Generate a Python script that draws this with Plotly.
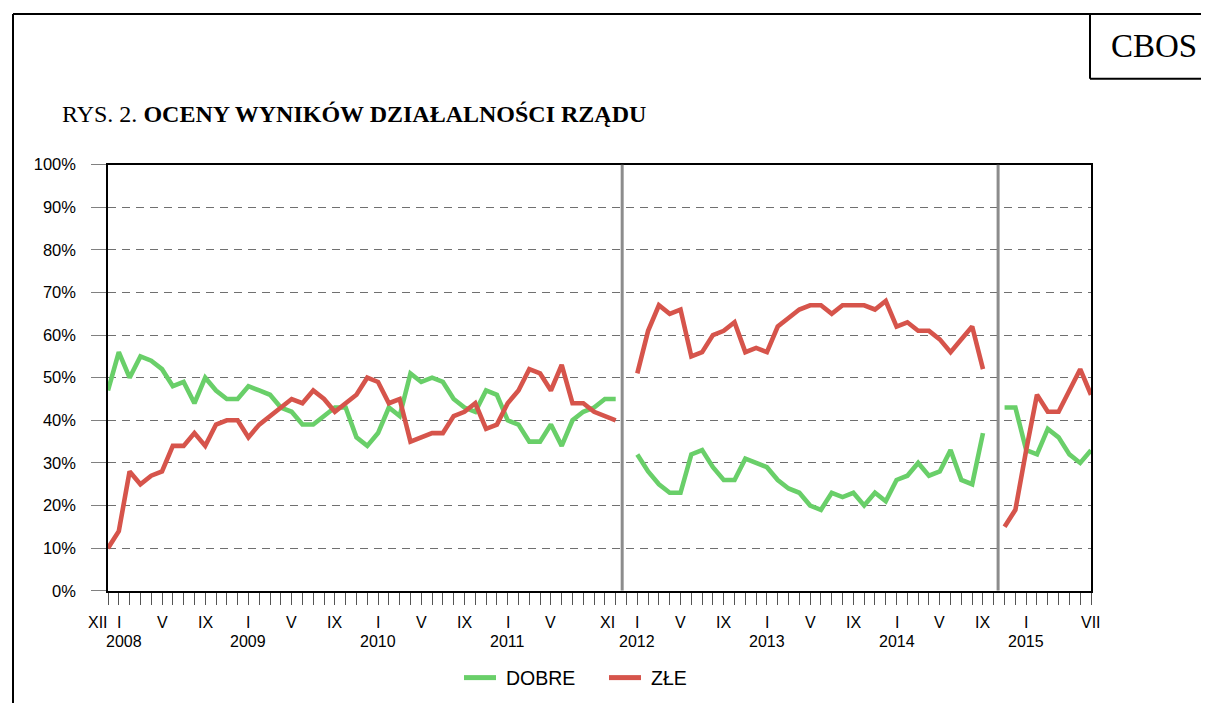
import plotly.graph_objects as go

# ---- data (month index 0 = XII 2007 ... 91 = VII 2015) ----
# Segment 1: XII 2007 - XI 2011 (index 0..47)
dobre_1 = [47, 56, 50, 55, 54, 52, 48, 49, 44, 50, 47, 45, 45, 48, 47, 46, 43, 42, 39, 39,
           41, 43, 43, 36, 34, 37, 43, 41, 51, 49, 50, 49, 45, 43, 42, 47, 46, 40, 39, 35,
           35, 39, 34, 40, 42, 43, 45, 45]
zle_1 = [10, 14, 28, 25, 27, 28, 34, 34, 37, 34, 39, 40, 40, 36, 39, 41, 43, 45, 44, 47,
         45, 42, 44, 46, 50, 49, 44, 45, 35, 36, 37, 37, 41, 42, 44, 38, 39, 44, 47, 52,
         51, 47, 53, 44, 44, 42, 41, 40]
# Segment 2: I 2012 - IX 2014 (index 49..81)
dobre_2 = [32, 28, 25, 23, 23, 32, 33, 29, 26, 26, 31, 30, 29, 26, 24, 23, 20, 19, 23, 22,
           23, 20, 23, 21, 26, 27, 30, 27, 28, 33, 26, 25, 37]
zle_2 = [51, 61, 67, 65, 66, 55, 56, 60, 61, 63, 56, 57, 56, 62, 64, 66, 67, 67, 65, 67,
         67, 67, 66, 68, 62, 63, 61, 61, 59, 56, 59, 62, 52]
# Segment 3: XI 2014 - VII 2015 (index 83..91)
dobre_3 = [43, 43, 33, 32, 38, 36, 32, 30, 33]
zle_3 = [15, 19, 33, 46, 42, 42, 47, 52, 46]

seg_starts = [0, 49, 83]
separators = [47.6, 82.4]

month_label_pos = [0, 1, 5, 9, 13, 17, 21, 25, 29, 33, 37, 41, 47, 49, 53, 57, 61, 65, 69, 73, 77, 81, 85, 91]
month_labels = ["XII", "I", "V", "IX", "I", "V", "IX", "I", "V", "IX", "I", "V", "XI",
                "I", "V", "IX", "I", "V", "IX", "I", "V", "IX", "I", "VII"]
year_label_pos = [1.5, 13, 25, 37, 49, 61, 73, 85]
year_labels = ["2008", "2009", "2010", "2011", "2012", "2013", "2014", "2015"]
y_ticks = list(range(0, 101, 10))
y_ticklabels = [f"{v}%" for v in y_ticks]

series_names = ["DOBRE", "ZŁE"]
colors = ["#69CF69", "#D6544B"]

N = 92

def build(segs):
    ys = [None] * N
    for start, vals in zip(seg_starts, segs):
        for i, v in enumerate(vals):
            ys[start + i] = v
    return ys

dobre = build([dobre_1, dobre_2, dobre_3])
zle = build([zle_1, zle_2, zle_3])
x = list(range(N))

# page is 1209x711; the figure sits inside the default 8px page margin
OFF = 8
W, H = 1209 - 2 * OFF, 711 - 2 * OFF
YA, YS = 16.1, 0.976   # measured vertical placement of the page in the snapshot
def px(v):
    return (v - OFF) / W
def py(v):
    return 1 - ((v - YA) / YS) / H

fig = go.Figure()
for name, ys, col in zip(series_names, [dobre, zle], colors):
    fig.add_trace(go.Scatter(x=x, y=ys, mode="lines", name=name, connectgaps=False,
                             line=dict(color=col, width=4.6), showlegend=False,
                             hoverinfo="x+y"))

font_sans = "Liberation Sans, Arial, sans-serif"
font_serif = "Liberation Serif, Times New Roman, serif"

fig.update_layout(
    width=W, height=H,
    margin=dict(l=0, r=0, t=0, b=0),
    paper_bgcolor="white", plot_bgcolor="white",
    showlegend=False,
    xaxis=dict(domain=[px(108), px(1091)], range=[0, 91], tickmode="array",
               tickvals=x, showticklabels=False, ticks="outside", ticklen=12,
               tickcolor="#555555", tickwidth=1, showgrid=False, zeroline=False,
               showline=True, linecolor="black", linewidth=1.5, mirror=True),
    yaxis=dict(domain=[py(591), py(164)], range=[0, 100], tickmode="array",
               tickvals=y_ticks, ticktext=y_ticklabels, ticks="outside", ticklen=15,
               tickcolor="#808080", tickwidth=1, ticklabelstandoff=12,
               tickfont=dict(family=font_sans, size=16.5, color="black"),
               showgrid=True, gridcolor="#707070", gridwidth=1.2, griddash="8px,6px",
               zeroline=False, showline=True, linecolor="black", linewidth=1.5, mirror=True),
)

shapes = []
for sx in separators:
    shapes.append(dict(type="line", xref="x", yref="y", x0=sx, x1=sx, y0=0, y1=100,
                       line=dict(color="#8C8C8C", width=3)))
# outer frame
shapes.append(dict(type="line", xref="paper", yref="paper", x0=px(13), x1=px(1215),
                   y0=py(13), y1=py(13), line=dict(color="black", width=2)))
shapes.append(dict(type="line", xref="paper", yref="paper", x0=px(13), x1=px(13),
                   y0=py(13), y1=py(730), line=dict(color="black", width=2)))
# CBOS box
shapes.append(dict(type="line", xref="paper", yref="paper", x0=px(1090), x1=px(1090),
                   y0=py(13), y1=py(78), line=dict(color="black", width=2)))
shapes.append(dict(type="line", xref="paper", yref="paper", x0=px(1090), x1=px(1215),
                   y0=py(78), y1=py(78), line=dict(color="black", width=2)))
# legend lines
leg_x = [464, 609]
for lx, col in zip(leg_x, colors):
    shapes.append(dict(type="line", xref="paper", yref="paper", x0=px(lx), x1=px(lx + 32),
                       y0=py(678), y1=py(678), line=dict(color=col, width=5)))
fig.update_layout(shapes=shapes)

ann = []
lab_font = dict(family=font_sans, size=16, color="black")
for k, t in zip(month_label_pos, month_labels):
    if t in ("XII", "XI"):
        ann.append(dict(x=k + 0.15, y=py(623), xref="x", yref="paper", text=t, showarrow=False,
                        xanchor="right", yanchor="middle", font=lab_font))
    else:
        ann.append(dict(x=k, y=py(623), xref="x", yref="paper", text=t, showarrow=False,
                        xanchor="center", yanchor="middle", font=lab_font))
for k, t in zip(year_label_pos, year_labels):
    ann.append(dict(x=k, y=py(642), xref="x", yref="paper", text=t, showarrow=False,
                    xanchor="center", yanchor="middle", font=lab_font))
for lx, name in zip(leg_x, series_names):
    ann.append(dict(x=px(lx + 40), y=py(678), xref="paper", yref="paper", text=name,
                    showarrow=False, xanchor="left", yanchor="middle",
                    font=dict(family=font_sans, size=19.5, color="black")))
ann.append(dict(x=px(60), y=py(113), xref="paper", yref="paper",
                text="RYS. 2. <b>OCENY WYNIKÓW DZIAŁALNOŚCI RZĄDU</b>", showarrow=False,
                xanchor="left", yanchor="middle",
                font=dict(family=font_serif, size=24, color="black")))
ann.append(dict(x=px(1154), y=py(45), xref="paper", yref="paper", text="CBOS",
                showarrow=False, xanchor="center", yanchor="middle",
                font=dict(family=font_serif, size=33, color="black")))
fig.update_layout(annotations=ann)

fig.write_html("out.html")
